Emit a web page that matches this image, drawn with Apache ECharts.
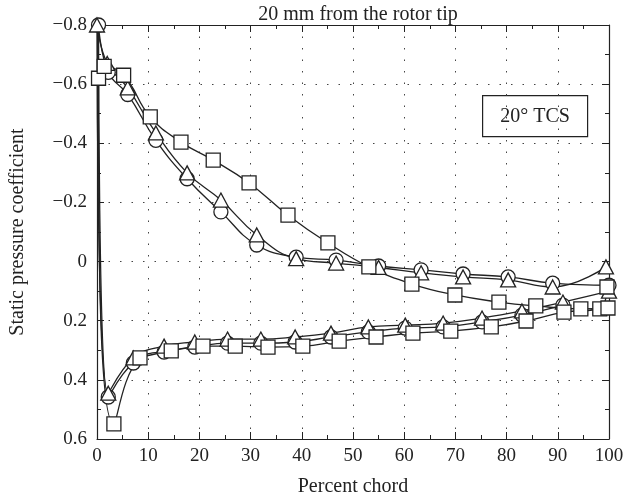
<!DOCTYPE html>
<html>
<head>
<meta charset="utf-8">
<script src="https://cdn.jsdelivr.net/npm/echarts@6/dist/echarts.min.js"></script>
<style>
  html, body { margin: 0; padding: 0; background: #fff; }
  #main { width: 638px; height: 504px; }
</style>
</head>
<body>
<div id="main"></div>
<script>
// percent chord, static pressure coefficient
var circleSuction = [[0.3, -0.80], [2.2, -0.64], [6.0, -0.565], [11.5, -0.41], [17.6, -0.28], [24.2, -0.168], [31.2, -0.056], [38.9, -0.015], [46.7, -0.005], [55.0, 0.015], [63.3, 0.028], [71.5, 0.042], [80.3, 0.052], [89.0, 0.073], [100, 0.08]];
var circlePressure = [[2.2, 0.458], [7.1, 0.343], [13.1, 0.306], [19.1, 0.289], [25.5, 0.276], [32.0, 0.276], [38.7, 0.272], [45.7, 0.255], [53.0, 0.238], [60.2, 0.225], [67.6, 0.221], [75.2, 0.204], [83.0, 0.181], [91.0, 0.147]];

var triSuction = [[0, -0.80], [2.0, -0.67], [6.0, -0.587], [11.5, -0.435], [17.6, -0.30], [24.2, -0.208], [31.2, -0.09], [38.9, -0.01], [46.7, 0.005], [55.0, 0.02], [63.3, 0.038], [71.5, 0.052], [80.3, 0.062], [89.0, 0.086], [99.4, 0.018]];
var triPressure = [[2.2, 0.445], [7.1, 0.326], [13.1, 0.286], [19.1, 0.272], [25.5, 0.262], [32.0, 0.262], [38.7, 0.255], [45.7, 0.242], [53.0, 0.221], [60.2, 0.215], [67.6, 0.208], [75.2, 0.191], [83.0, 0.167], [91.0, 0.137], [100, 0.10]];

var squareSuction = [[0.3, -0.62], [1.4, -0.66], [5.2, -0.63], [10.4, -0.489], [16.4, -0.404], [22.7, -0.343], [29.7, -0.266], [37.3, -0.157], [45.1, -0.063], [53.1, 0.018], [61.5, 0.076], [69.9, 0.113], [78.5, 0.137], [85.7, 0.150], [94.5, 0.160], [99.8, 0.157]];
var squarePressure = [[3.3, 0.549], [8.4, 0.326], [14.5, 0.302], [20.7, 0.286], [27.0, 0.286], [33.4, 0.289], [40.2, 0.286], [47.3, 0.269], [54.5, 0.255], [61.7, 0.242], [69.1, 0.235], [77.0, 0.221], [83.8, 0.201], [91.2, 0.171], [98.2, 0.160], [99.6, 0.086]];

var xTicks = [0, 10, 20, 30, 40, 50, 60, 70, 80, 90, 100];
var yTicks = [-0.8, -0.6, -0.4, -0.2, 0, 0.2, 0.4, 0.6];

var ink = '#222';
var serif = '"Liberation Serif", "DejaVu Serif", serif';

// pressure side back to the leading edge, then suction side to the trailing edge
function path(suction, pressure) {
    return pressure.slice().reverse().concat(suction);
}

function makeSeries(name, symbol, size, suction, pressure) {
    return {
        name: name,
        type: 'line',
        data: path(suction, pressure),
        smooth: 0.45,
        clip: false,
        symbol: symbol,
        symbolSize: size,
        showAllSymbol: true,
        lineStyle: { color: ink, width: 1.3 },
        itemStyle: { color: '#fff', borderColor: ink, borderWidth: 1.3 },
        emphasis: { disabled: true }
    };
}

var chart = echarts.init(document.getElementById('main'));

var baseX = {
    type: 'value',
    min: xTicks[0],
    max: xTicks[xTicks.length - 1],
    interval: 10,
    axisLine: { show: true, onZero: false, lineStyle: { color: ink, width: 1.2 } },
    axisTick: { show: true, inside: true, length: 7, lineStyle: { color: ink } },
    minorTick: { show: true, splitNumber: 2, length: 4, lineStyle: { color: ink } }
};
var baseY = {
    type: 'value',
    inverse: true,
    min: yTicks[0],
    max: yTicks[yTicks.length - 1],
    interval: 0.2,
    axisLine: { show: true, onZero: false, lineStyle: { color: ink, width: 1.2 } },
    axisTick: { show: true, inside: true, length: 7, lineStyle: { color: ink } },
    minorTick: { show: true, splitNumber: 2, length: 4, lineStyle: { color: ink } }
};

var option = {
    animation: false,
    backgroundColor: '#fff',
    title: {
        text: '20 mm from the rotor tip',
        left: 353,
        top: 0,
        textAlign: 'center',
        textStyle: { fontFamily: serif, fontSize: 20, fontWeight: 'normal', color: ink }
    },
    grid: { left: 97, top: 25, right: 29, bottom: 65 },
    xAxis: [
        Object.assign({}, baseX, {
            position: 'bottom',
            name: 'Percent chord',
            nameLocation: 'middle',
            nameGap: 38,
            nameTextStyle: { fontFamily: serif, fontSize: 20, color: ink },
            axisLabel: { fontFamily: serif, fontSize: 19, color: ink, margin: 8 },
            splitLine: { show: true, lineStyle: { color: '#444', width: 1, type: [1.5, 10] } }
        }),
        Object.assign({}, baseX, {
            position: 'top',
            axisLabel: { show: false },
            splitLine: { show: false }
        })
    ],
    yAxis: [
        Object.assign({}, baseY, {
            position: 'left',
            name: 'Static pressure coefficient',
            nameLocation: 'middle',
            nameGap: 69,
            nameTextStyle: { fontFamily: serif, fontSize: 20, color: ink },
            axisLabel: {
                fontFamily: serif, fontSize: 19, color: ink, margin: 10,
                formatter: function (v) {
                    if (Math.abs(v) < 1e-9) return '0';
                    return (v < 0 ? '\u2212' : '') + Math.abs(v).toFixed(1);
                }
            },
            splitLine: { show: true, lineStyle: { color: '#444', width: 1, type: [1.5, 10] } }
        }),
        Object.assign({}, baseY, {
            position: 'right',
            axisLabel: { show: false },
            splitLine: { show: false }
        })
    ],
    graphic: [{
        type: 'group',
        left: 482,
        top: 95,
        children: [{
            type: 'rect',
            shape: { x: 0, y: 0, width: 105, height: 41 },
            style: { fill: '#fff', stroke: ink, lineWidth: 1.2 }
        }, {
            type: 'text',
            x: 52.5,
            y: 21,
            style: {
                text: '20\u00b0 TCS',
                font: '20px ' + serif,
                fill: ink,
                align: 'center',
                verticalAlign: 'middle'
            }
        }]
    }],
    series: [
        makeSeries('circle', 'circle', 14, circleSuction, circlePressure),
        makeSeries('triangle', 'triangle', [15, 14], triSuction, triPressure),
        makeSeries('square', 'rect', 14, squareSuction, squarePressure)
    ]
};

chart.setOption(option);
</script>
</body>
</html>
